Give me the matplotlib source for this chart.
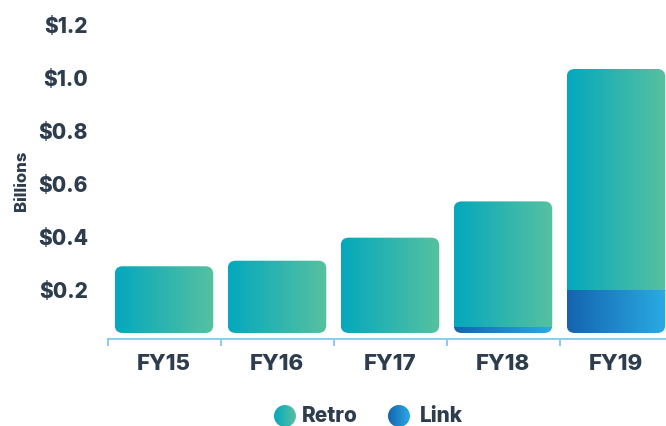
import matplotlib
matplotlib.use("Agg")
import matplotlib.pyplot as plt
from matplotlib.colors import LinearSegmentedColormap
from matplotlib.patches import FancyBboxPatch, Circle
import matplotlib.transforms as mtransforms
import numpy as np

years = ["FY15", "FY16", "FY17", "FY18", "FY19"]
link = [0.0, 0.0, 0.0, 0.02, 0.16]          # $B
retro = [0.252, 0.273, 0.36, 0.477, 0.837]  # $B
yticks = [0.2, 0.4, 0.6, 0.8, 1.0, 1.2]
ytick_labels = ["$0.2", "$0.4", "$0.6", "$0.8", "$1.0", "$1.2"]
series_names = ["Retro", "Link"]

TEXT = "#2e3d4e"
AXIS = "#8ccdf0"
retro_cmap = LinearSegmentedColormap.from_list("retro", ["#04a8bd", "#57c1a0"])
link_cmap = LinearSegmentedColormap.from_list("link", ["#1563af", "#2aabe3"])
grad = np.linspace(0, 1, 256).reshape(1, -1)

plt.rcParams["font.family"] = ["Inter", "DejaVu Sans"]

fig = plt.figure(figsize=(6.66, 4.26), dpi=100)
ax = fig.add_axes([107.5 / 666, 87 / 426, 565 / 666, 337 / 426])
ax.set_xlim(-0.5, 4.5)
ax.set_ylim(-0.0227, 1.25)

width = 0.872
px_x = 565 / 5.0
px_y = 337 / 1.2727
rad = 8 / px_x
for i, yr in enumerate(years):
    total = link[i] + retro[i]
    x0, x1 = i - width / 2, i + width / 2
    box = FancyBboxPatch((x0, 0), width, total,
                         boxstyle=f"round,pad=0,rounding_size={rad}",
                         mutation_aspect=px_x / px_y,
                         facecolor="none", edgecolor="none")
    ax.add_patch(box)
    im = ax.imshow(grad, cmap=retro_cmap, extent=(x0, x1, link[i], total),
                   aspect="auto", interpolation="bilinear", zorder=2)
    im.set_clip_path(box)
    if link[i] > 0:
        im2 = ax.imshow(grad, cmap=link_cmap, extent=(x0, x1, 0, link[i]),
                        aspect="auto", interpolation="bilinear", zorder=2)
        im2.set_clip_path(box)

for s in ["top", "right", "left"]:
    ax.spines[s].set_visible(False)
ax.spines["bottom"].set_color(AXIS)
ax.spines["bottom"].set_linewidth(1.5)

ax.set_xticks(range(len(years)))
ax.set_xticklabels(years, fontsize=16, fontweight="heavy", color=TEXT)
ax.set_xticks(np.arange(-0.5, 4.6, 1.0), minor=True)
ax.tick_params(axis="x", which="major", length=0, pad=11)
ax.tick_params(axis="x", which="minor", length=5, width=1.5, color=AXIS)

ax.set_yticks(yticks)
ax.set_yticklabels(ytick_labels, fontsize=15, fontweight="heavy", color=TEXT)
ax.tick_params(axis="y", length=0, pad=14)
shift = mtransforms.ScaledTranslation(0, -9.8 / 100, fig.dpi_scale_trans)
for lab in ax.get_yticklabels():
    lab.set_transform(lab.get_transform() + shift)

fig.text(21.5 / 666, 1 - 181 / 426, "Billions", rotation=90, ha="center",
         va="center", fontsize=12, fontweight="heavy", color=TEXT)

# legend drawn in pixel units along the bottom strip
lax = fig.add_axes([0, 0, 1, 42.6 / 426])
lax.set_xlim(0, 666)
lax.set_ylim(0, 42.6)
lax.axis("off")
for cx, name, cmap, tx in [(285, series_names[0], retro_cmap, 302),
                           (399, series_names[1], link_cmap, 420)]:
    c = Circle((cx, 10), 11, facecolor="none", edgecolor="none")
    lax.add_patch(c)
    im = lax.imshow(grad, cmap=cmap, extent=(cx - 11, cx + 11, -1, 21),
                    aspect="auto", interpolation="bilinear")
    im.set_clip_path(c)
    lax.text(tx, 10, name, ha="left", va="center", fontsize=15,
             fontweight="heavy", color=TEXT)

fig.savefig("out.png", dpi=100)
